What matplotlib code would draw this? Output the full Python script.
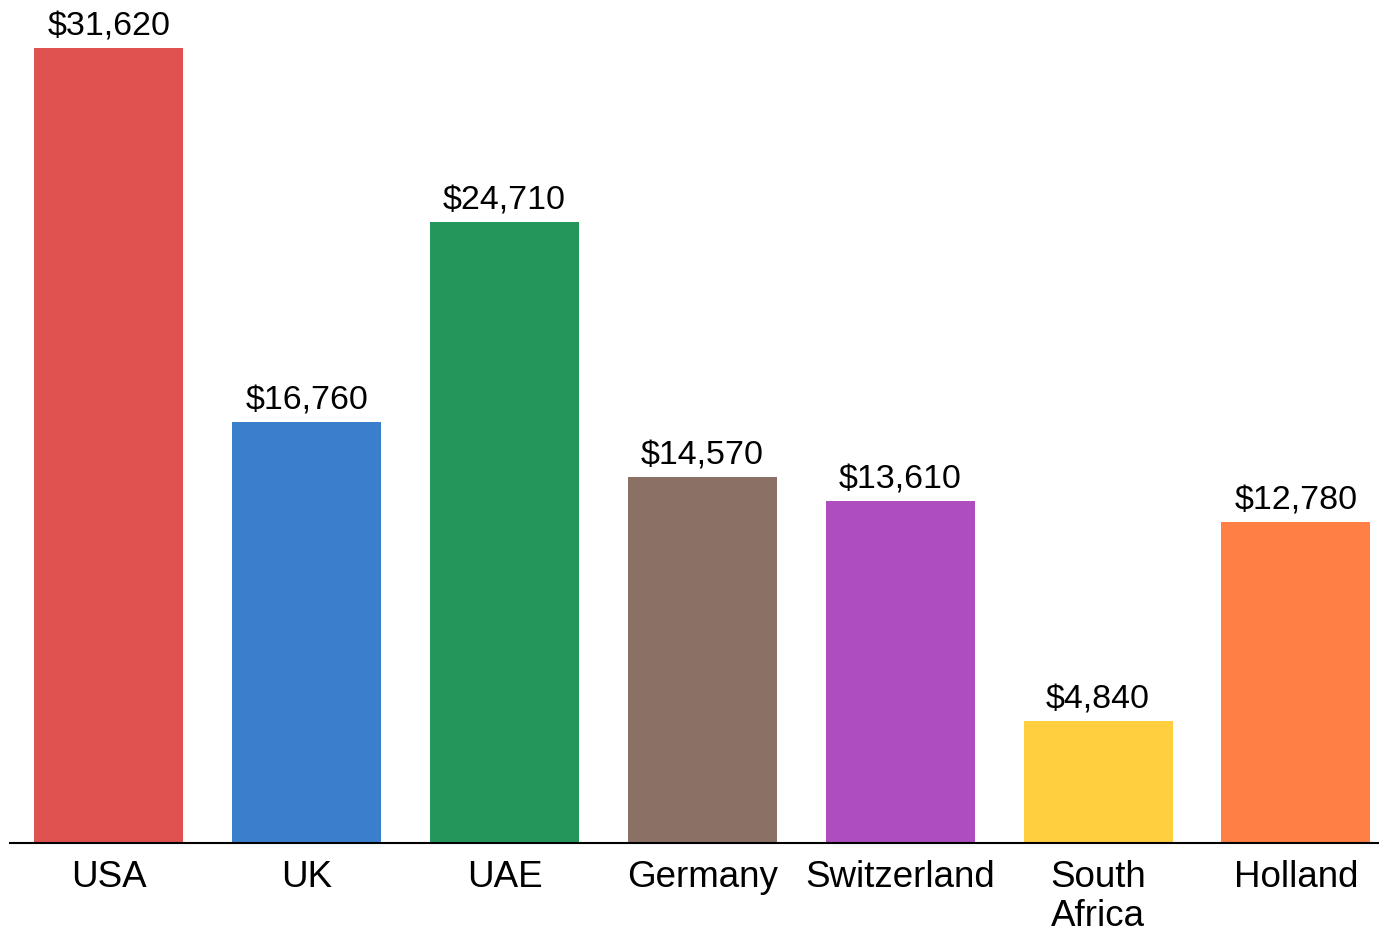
import matplotlib.pyplot as plt

plt.rcParams['font.family'] = ['Liberation Sans', 'DejaVu Sans']

countries = ['USA', 'UK', 'UAE', 'Germany', 'Switzerland', 'South\nAfrica', 'Holland']
values = [31620, 16760, 24710, 14570, 13610, 4840, 12780]
colors = ['#E05250', '#3A7FCC', '#25965B', '#8B7065', '#AD4DBE', '#FFCF40', '#FF7F44']

fig = plt.figure(figsize=(13.79, 9.35), dpi=100)
ax = fig.add_axes([10 / 1379, 92 / 935, 1 - 10 / 1379, 843 / 935])

x = range(len(countries))
bars = ax.bar(x, values, width=0.753, color=colors)

for b, v in zip(bars, values):
    ax.annotate('${:,}'.format(v), (b.get_x() + b.get_width() / 2, v),
                xytext=(0, 4), textcoords='offset points',
                ha='center', va='bottom', fontsize=24.5)

ax.set_xlim(-0.5, 6.42)
ax.set_ylim(0, 33530)
ax.set_xticks(list(x))
ax.set_xticklabels(countries, fontsize=26.5, linespacing=1.15)
ax.tick_params(axis='x', length=0, pad=12)
ax.set_yticks([])
for s in ['top', 'right', 'left']:
    ax.spines[s].set_visible(False)
ax.spines['bottom'].set_linewidth(1.5)

fig.savefig('out.png', dpi=100)
